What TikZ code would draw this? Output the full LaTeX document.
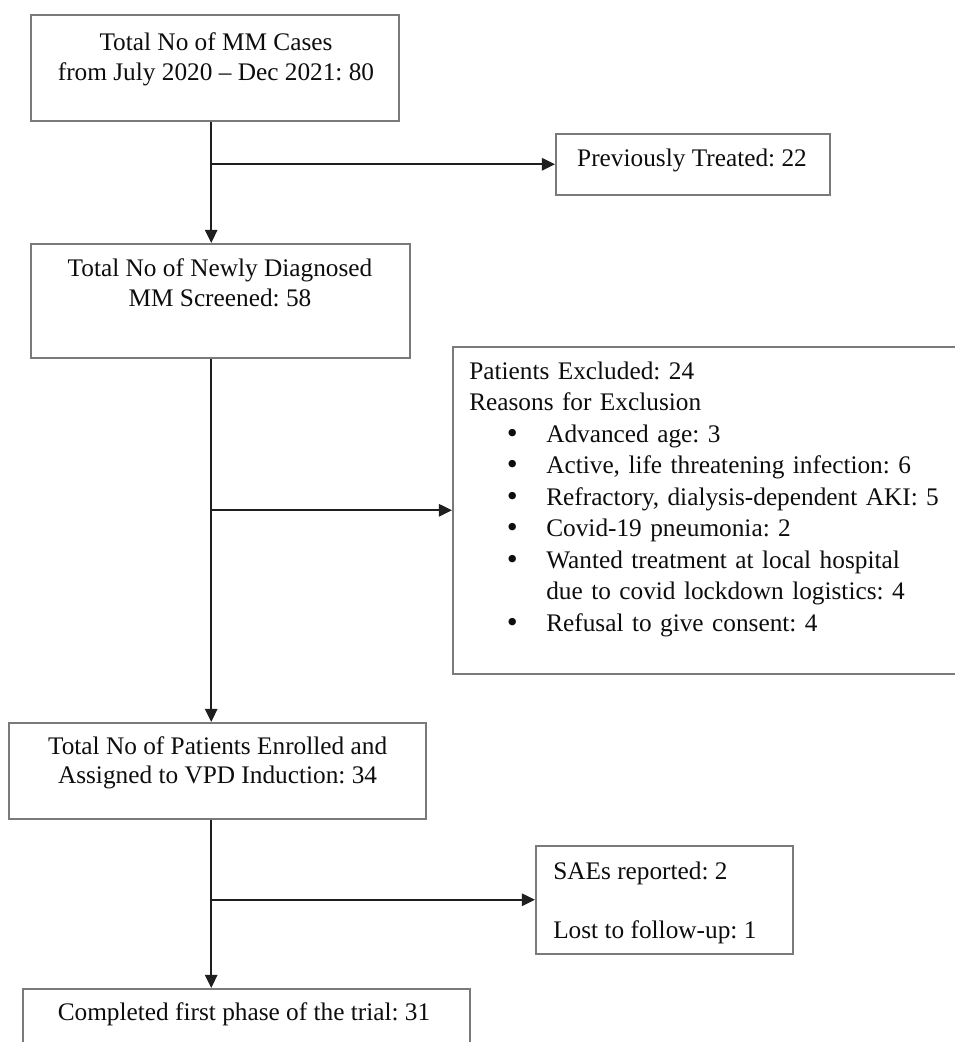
\documentclass[tikz,border=0pt]{standalone}
\usepackage{fontspec}
\setmainfont{Liberation Serif}
\newfontfamily\dotfont{DejaVu Sans}
\usetikzlibrary{arrows.meta, positioning, calc}
\frenchspacing

\newcommand{\exitem}{\hspace*{0.89cm}\makebox[1.035cm][l]{\dotfont\textbullet}}

\begin{document}
\begin{tikzpicture}[
  >={Triangle[length=0.33cm, width=0.31cm]},
  box/.style={draw=black!52, line width=1.1pt, anchor=north west, inner sep=0pt},
  txt/.style={font=\fontsize{18}{21.5}\selectfont, text=black!95, inner sep=0pt, align=center, anchor=north},
  flow/.style={line width=1.5pt, draw=black!88, ->}
]
\useasboundingbox (0,0) rectangle (23.875cm,-26.05cm);
\coordinate (spine) at (5.28cm,0);

% main column
\node[box, minimum width=9.2cm, minimum height=2.65cm] (total) at (0.75cm,-0.35cm) {};
\node[txt] (total-txt) at (5.4cm,-0.81cm) {Total No of MM Cases\\from July 2020 -- Dec 2021: 80};
\node[box, minimum width=9.475cm, minimum height=2.85cm] (newly) at (0.75cm,-6.075cm) {};
\node[txt] (newly-txt) at (5.5cm,-6.46cm) {Total No of Newly Diagnosed\\MM Screened: 58};
\node[box, minimum width=10.425cm, minimum height=2.4cm] (enrolled) at (0.2cm,-18.05cm) {};
\node[txt, font=\fontsize{18}{20.8}\selectfont] (enrolled-txt) at (5.44cm,-18.41cm) {Total No of Patients Enrolled and\\Assigned to VPD Induction: 34};
\node[box, minimum width=11.175cm, minimum height=1.9cm] (completed) at (0.55cm,-24.7cm) {};
\node[txt] (completed-txt) at (6.1cm,-25.06cm) {Completed first phase of the trial: 31};

% side boxes
\node[box, minimum width=6.85cm, minimum height=1.525cm] (prev) at (13.875cm,-3.325cm) {};
\node[txt] (prev-txt) at (17.3cm,-3.71cm) {Previously Treated: 22};
\node[box, minimum width=12.95cm, minimum height=8.175cm] (excl) at (11.3cm,-8.65cm) {};
\node[txt, anchor=north west, align=left, text width=12cm, font=\fontsize{18}{22.4}\selectfont] (excl-txt) at (11.725cm,-9.04cm) {Patients Excluded: 24\\
Reasons for Exclusion\\
\exitem Advanced age: 3\\
\exitem Active, life threatening infection: 6\\
\exitem Refractory, dialysis-dependent AKI: 5\\
\exitem Covid-19 pneumonia: 2\\
\exitem Wanted treatment at local hospital\\
\hspace*{1.925cm}due to covid lockdown logistics: 4\\
\exitem Refusal to give consent: 4};
\node[box, minimum width=6.425cm, minimum height=2.7cm] (sae) at (13.375cm,-21.125cm) {};
\node[txt, anchor=north west, align=left, font=\fontsize{18}{21.3}\selectfont] (sae-txt) at (13.825cm,-21.53cm) {SAEs reported: 2\\[0.75cm]Lost to follow-up: 1};

% connectors
\draw[flow] (total.south -| spine) -- (newly.north -| spine);
\draw[flow] (newly.south -| spine) -- (enrolled.north -| spine);
\draw[flow] (enrolled.south -| spine) -- (completed.north -| spine);
\draw[flow] (spine |- prev.west) -- (prev.west);
\draw[flow] (spine |- excl.west) -- (excl.west);
\draw[flow] (spine |- sae.west) -- (sae.west);
\end{tikzpicture}
\end{document}
